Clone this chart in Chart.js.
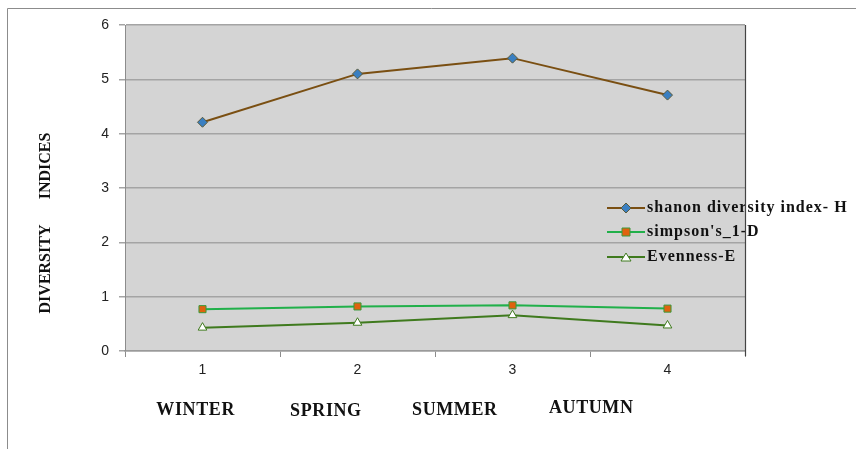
<!DOCTYPE html>
<html>
<head>
<meta charset="utf-8">
<script src="https://cdn.jsdelivr.net/npm/chart.js@4/dist/chart.umd.min.js"></script>
<style>
  html, body { margin: 0; padding: 0; background: #ffffff; }
  #wrap { width: 856px; height: 449px; position: relative; }
</style>
</head>
<body>
<div id="wrap"><canvas id="c" width="856" height="449"></canvas></div>
<script>
// Seasonal diversity indices
const tickLabels = ['1', '2', '3', '4'];
const seasons = ['WINTER', 'SPRING', 'SUMMER', 'AUTUMN'];
const shannonH = [4.21, 5.10, 5.39, 4.71];
const simpson1D = [0.77, 0.82, 0.84, 0.78];
const evennessE = [0.43, 0.52, 0.66, 0.47];
const seriesNames = ["shanon diversity index- H", "simpson's_1-D", "Evenness-E"];
const yTicks = [0, 1, 2, 3, 4, 5, 6];

const serif = '"Liberation Serif", "Times New Roman", serif';
const sans = '"Liberation Sans", Arial, sans-serif';

// grey plot panel, frame and outer border
const panelPlugin = {
  id: 'panel',
  beforeDraw(chart) {
    const { ctx, chartArea: a } = chart;
    ctx.save();
    ctx.fillStyle = '#ffffff';
    ctx.fillRect(0, 0, chart.width, chart.height);
    ctx.fillStyle = '#d4d4d4';
    ctx.fillRect(a.left, a.top, a.right - a.left, a.bottom - a.top);
    ctx.restore();
  },
  afterDraw(chart) {
    const { ctx, chartArea: a } = chart;
    ctx.save();
    // outer border
    ctx.strokeStyle = '#8c8c8c';
    ctx.lineWidth = 1;
    ctx.beginPath();
    ctx.moveTo(7.5, 449);
    ctx.lineTo(7.5, 8.5);
    ctx.lineTo(856, 8.5);
    ctx.stroke();

    // season names under the numeric ticks
    ctx.fillStyle = '#111111';
    ctx.font = 'bold 18px ' + serif;
    try { ctx.letterSpacing = '0.6px'; } catch (e) {}
    ctx.textAlign = 'center';
    ctx.textBaseline = 'middle';
    const fx = [0.114, 0.324, 0.532, 0.752];
    const dy = [0, 1.5, 0, -2];
    const w = a.right - a.left;
    seasons.forEach((s, i) => {
      ctx.fillText(s, a.left + w * fx[i], 410 + dy[i]);
    });
    try { ctx.letterSpacing = '0px'; } catch (e) {}

    // vertical axis title
    ctx.save();
    ctx.translate(46, 0);
    ctx.rotate(-Math.PI / 2);
    ctx.font = 'bold 16px ' + serif;
    ctx.textAlign = 'center';
    ctx.fillText('DIVERSITY', -269, 0);
    ctx.fillText('INDICES', -166, 0);
    ctx.restore();

    // legend
    const rows = [208, 232, 257];
    ctx.font = 'bold 16px ' + serif;
    ctx.textAlign = 'left';
    ctx.textBaseline = 'middle';
    try { ctx.letterSpacing = '1px'; } catch (e) {}
    chart.data.datasets.forEach((ds, i) => {
      const y = rows[i];
      ctx.strokeStyle = ds.borderColor;
      ctx.lineWidth = 2;
      ctx.beginPath();
      ctx.moveTo(607, y);
      ctx.lineTo(645, y);
      ctx.stroke();
      ctx.fillStyle = ds.pointBackgroundColor;
      ctx.strokeStyle = ds.pointBorderColor;
      ctx.lineWidth = 1;
      const cx = 626, r = 4;
      ctx.beginPath();
      if (ds.pointStyle === 'rectRot') {
        ctx.moveTo(cx, y - r - 1); ctx.lineTo(cx + r + 1, y); ctx.lineTo(cx, y + r + 1); ctx.lineTo(cx - r - 1, y); ctx.closePath();
      } else if (ds.pointStyle === 'rect') {
        ctx.rect(cx - r, y - r, 2 * r, 2 * r);
      } else {
        ctx.moveTo(cx, y - r); ctx.lineTo(cx + r + 1, y + r); ctx.lineTo(cx - r - 1, y + r); ctx.closePath();
      }
      ctx.fill();
      ctx.stroke();
      ctx.fillStyle = '#111111';
      ctx.fillText(ds.label, 647, y);
    });
    try { ctx.letterSpacing = '0px'; } catch (e) {}

    // right edge of panel
    ctx.strokeStyle = '#444444';
    ctx.lineWidth = 1.2;
    ctx.beginPath();
    ctx.moveTo(a.right + 0.5, a.top);
    ctx.lineTo(a.right + 0.5, a.bottom + 5);
    ctx.stroke();
    ctx.restore();
  }
};

new Chart(document.getElementById('c'), {
  type: 'line',
  data: {
    labels: tickLabels,
    datasets: [
      {
        label: seriesNames[0],
        data: shannonH,
        borderColor: '#7a4f12',
        borderWidth: 2,
        pointStyle: 'rectRot',
        pointRadius: 5,
        pointBackgroundColor: '#3a7fc1',
        pointBorderColor: '#5a5a3a',
        pointBorderWidth: 1,
        tension: 0
      },
      {
        label: seriesNames[1],
        data: simpson1D,
        borderColor: '#21b04a',
        borderWidth: 2,
        pointStyle: 'rect',
        pointRadius: 5,
        pointBackgroundColor: '#e0620e',
        pointBorderColor: '#3a9a3a',
        pointBorderWidth: 1,
        tension: 0
      },
      {
        label: seriesNames[2],
        data: evennessE,
        borderColor: '#3f7a1e',
        borderWidth: 2,
        pointStyle: 'triangle',
        pointRadius: 5,
        pointBackgroundColor: '#ffffff',
        pointBorderColor: '#3f7a1e',
        pointBorderWidth: 1,
        tension: 0
      }
    ]
  },
  options: {
    responsive: false,
    animation: false,
    devicePixelRatio: 1,
    layout: { padding: { left: 0, right: 111, top: 25, bottom: 0 } },
    plugins: { legend: { display: false }, tooltip: { enabled: false } },
    scales: {
      x: {
        offset: true,
        grid: { offset: true, drawOnChartArea: false, tickLength: 6, color: '#8c8c8c' },
        border: { color: '#9a9a9a', width: 1.5 },
        ticks: { color: '#222222', font: { family: sans, size: 14 }, padding: 5 },
        afterFit(s) { s.height = 98; }
      },
      y: {
        min: 0,
        max: 6,
        afterBuildTicks(s) { s.ticks = yTicks.map(v => ({ value: v })); },
        grid: { color: '#a4a4a4', lineWidth: 1.5, tickLength: 6 },
        border: { color: '#8c8c8c', width: 1 },
        ticks: { color: '#222222', font: { family: sans, size: 14 }, padding: 10 },
        afterFit(s) { s.width = 125; }
      }
    }
  },
  plugins: [panelPlugin]
});
</script>
</body>
</html>
